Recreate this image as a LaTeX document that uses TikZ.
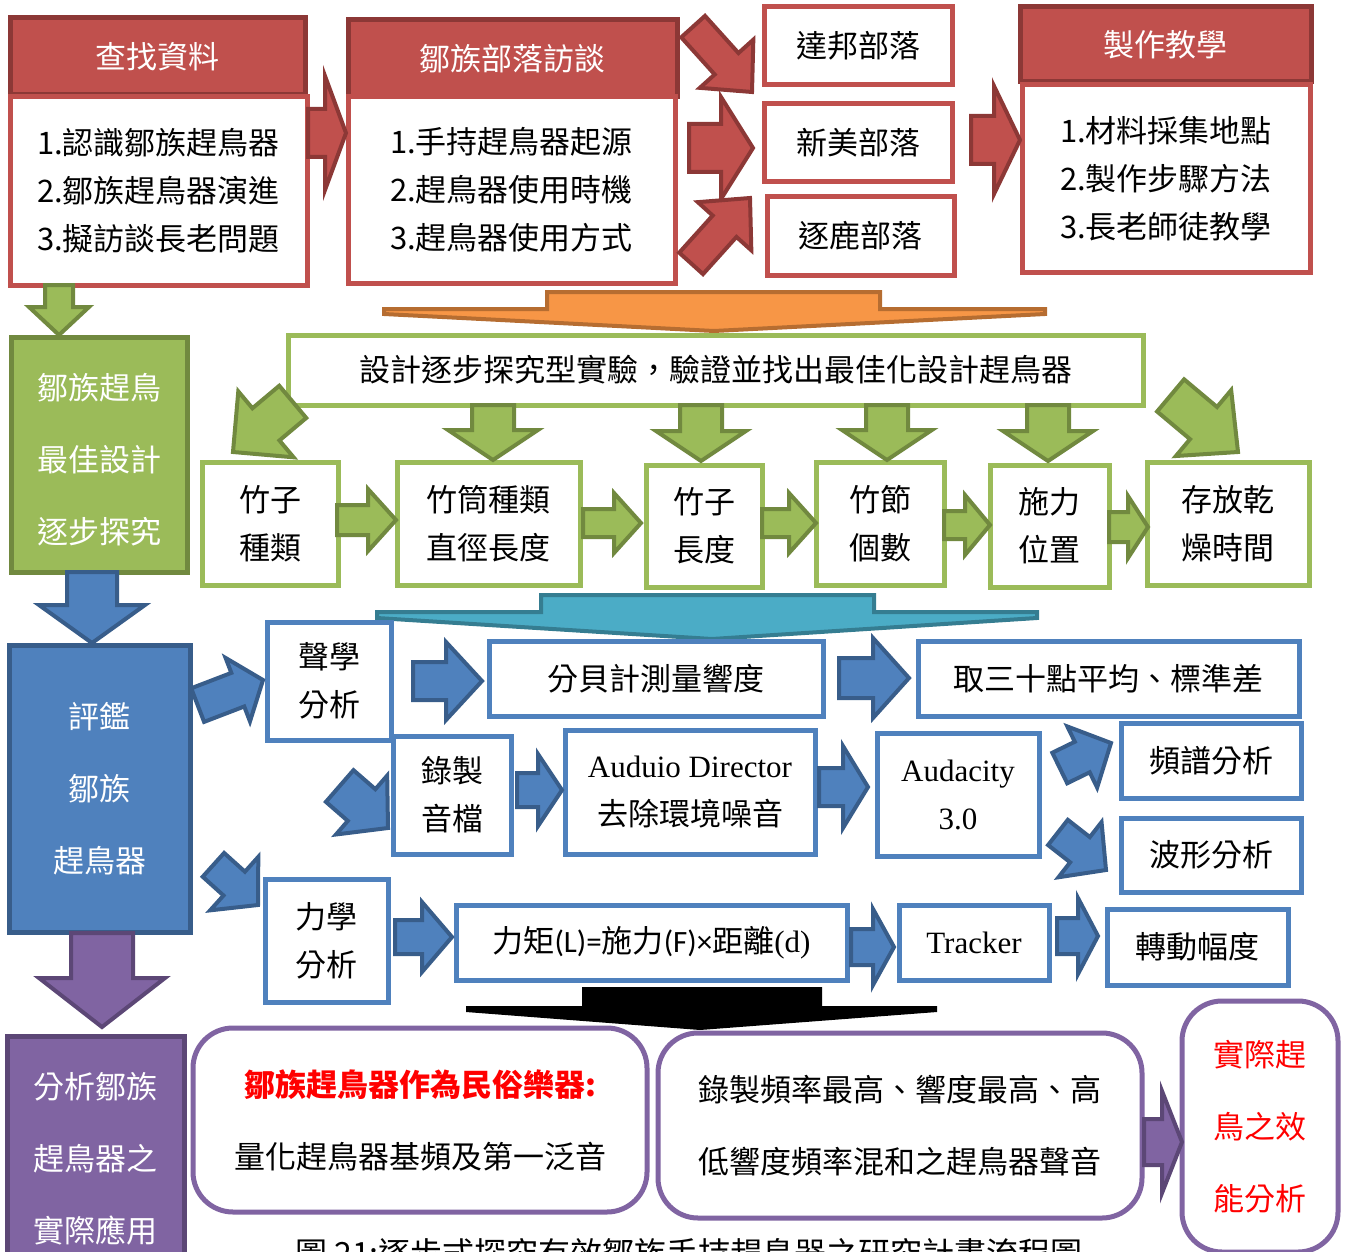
\documentclass[tikz,border=0pt]{standalone}
\usepackage{fontspec}
\setmainfont{Noto Sans CJK TC}
\newfontfamily\tnr{Liberation Serif}
\newfontfamily\carl{Carlito}
\definecolor{cRed}{HTML}{C0504D}
\definecolor{cRedD}{HTML}{8C3836}
\definecolor{cGr}{HTML}{9BBB59}
\definecolor{cGrD}{HTML}{71893F}
\definecolor{cBl}{HTML}{4F81BD}
\definecolor{cBlD}{HTML}{385D8A}
\definecolor{cPu}{HTML}{8064A2}
\definecolor{cPuD}{HTML}{5C4776}
\definecolor{cOr}{HTML}{F79646}
\definecolor{cOrD}{HTML}{B66D31}
\definecolor{cTe}{HTML}{4BACC6}
\definecolor{cTeD}{HTML}{357D91}
\definecolor{cRT}{HTML}{FF0000}
\tikzset{
  every node/.style={inner sep=0pt, outer sep=0pt},
  fs/.style={font=\fontsize{31}{48}\selectfont, align=center},
  fsw/.style={font=\fontsize{31}{72}\selectfont, align=center},
  rhead/.style={fs, draw=cRedD, fill=cRed, line width=5, text=white},
  rbody/.style={fs, draw=cRed, fill=white, line width=5},
  gfill/.style={fsw, draw=cGrD, fill=cGr, line width=5, text=white},
  gbox/.style={fs, draw=cGr, fill=white, line width=5},
  bfill/.style={fsw, draw=cBlD, fill=cBl, line width=5, text=white},
  bbox/.style={fs, draw=cBl, fill=white, line width=5},
  pfill/.style={fsw, draw=cPuD, fill=cPu, line width=5, text=white},
  pbox/.style={fsw, draw=cPu, fill=white, line width=5, rounded corners=40},
  wtext/.style={fsw, text=white},
  ra/.style={fill=cRed, draw=cRedD, line width=4},
  ga/.style={fill=cGr, draw=cGrD, line width=4},
  ba/.style={fill=cBl, draw=cBlD, line width=4},
  pa/.style={fill=cPu, draw=cPuD, line width=4},
}
% box: name, style, x1, y1, x2, y2, text
\newcommand\bx[7]{\node[#2, minimum width={#5-#3}, minimum height={#6-#4}] (#1) at ({(#3+#5)/2},{(#4+#6)/2}) {#7};}
% block arrow: style, tip, angle, length, head length, head half-width, shaft half-width
\newcommand\barrow[7]{\draw[#1, shift={#2}, rotate=#3] (-#4,-#7) -- (-#5,-#7) -- (-#5,-#6) -- (0,0) -- (-#5,#6) -- (-#5,#7) -- (-#4,#7) -- cycle;}
\begin{document}
\begin{tikzpicture}[x=1pt,y=-1pt]
\useasboundingbox (0,0) rectangle (1351,1252);
\clip (0,0) rectangle (1351,1252);
% ---------- red row ----------
\bx{h1}{rhead}{10}{18}{305}{95}{查找資料}
\bx{b1}{rbody}{10}{97}{307}{285}{1.認識鄒族趕鳥器\\2.鄒族趕鳥器演進\\3.擬訪談長老問題}
\bx{h2}{rhead}{348}{20}{677}{97}{鄒族部落訪談}
\bx{b2}{rbody}{348}{97}{675}{283}{1.手持趕鳥器起源\\2.趕鳥器使用時機\\3.趕鳥器使用方式}
\bx{t1}{rbody}{764}{7}{952}{85}{達邦部落}
\bx{t2}{rbody}{764}{104}{952}{182}{新美部落}
\bx{t3}{rbody}{767}{197}{954}{275}{逐鹿部落}
\bx{h3}{rhead}{1020}{7}{1311}{82}{製作教學}
\bx{b3}{rbody}{1022}{85}{1310}{272}{1.材料採集地點\\2.製作步驟方法\\3.長老師徒教學}
\barrow{ra}{(346,133)}{0}{38}{21}{57}{24}
\barrow{ra}{(752,92)}{-48}{88}{38}{36}{16}
\barrow{ra}{(753,148)}{0}{64}{32}{51}{24}
\barrow{ra}{(750,198)}{48}{88}{38}{36}{16}
\barrow{ra}{(1020,140)}{0}{49}{26}{54}{24}
% orange chevron
\draw[fill=cOr, draw=cOrD, line width=4] (547,292) -- (880,292) -- (880,309) -- (1045,309) -- (1045,314) -- (714,331) -- (384,314) -- (384,309) -- (547,309) -- cycle;
% ---------- green row ----------
\barrow{ga}{(59,335)}{-90}{50}{28}{30}{14}
\bx{g0}{gfill}{11}{337}{187}{572}{}
\node[wtext] (g0t) at (99,460) {鄒族趕鳥\\最佳設計\\逐步探究};
\bx{g1}{gbox}{288}{335}{1143}{405}{設計逐步探究型實驗，驗證並找出最佳化設計趕鳥器}
\bx{s1}{gbox}{202}{462}{338}{585}{竹子\\種類}
\bx{s2}{gbox}{397}{462}{580}{585}{竹筒種類\\直徑長度}
\bx{s3}{gbox}{646}{465}{762}{587}{竹子\\長度}
\bx{s4}{gbox}{816}{462}{944}{585}{竹節\\個數}
\bx{s5}{gbox}{990}{465}{1109}{587}{施力\\位置}
\bx{s6}{gbox}{1147}{462}{1309}{585}{存放乾\\燥時間}
\barrow{ga}{(233,452)}{-140}{78}{43}{43}{21}
\barrow{ga}{(493,460)}{-90}{55}{30}{45}{21}
\barrow{ga}{(701,461)}{-90}{56}{30}{45}{21}
\barrow{ga}{(887,460)}{-90}{55}{30}{45}{21}
\barrow{ga}{(1048,461)}{-90}{56}{30}{45}{21}
\barrow{ga}{(1238,452)}{-40}{88}{45}{43}{21}
\barrow{ga}{(396,520)}{0}{59}{28}{31}{15}
\barrow{ga}{(641,523)}{0}{58}{27}{30}{14}
\barrow{ga}{(816,523)}{0}{54}{27}{30}{14}
\barrow{ga}{(990,525)}{0}{46}{25}{30}{14}
\barrow{ga}{(1148,527)}{0}{39}{20}{31}{15}
% teal chevron
\draw[fill=cTe, draw=cTeD, line width=4] (541,595) -- (874,595) -- (874,612) -- (1037,612) -- (1037,618) -- (712,639) -- (377,618) -- (377,612) -- (541,612) -- cycle;
% ---------- blue rows ----------
\barrow{ba}{(92,643)}{-90}{71}{38}{53}{25}
\bx{e0}{bfill}{9}{645}{190}{932}{評鑑\\鄒族\\趕鳥器}
\bx{e1}{bbox}{267}{622}{391}{740}{聲學\\分析}
\bx{e2}{bbox}{393}{736}{511}{854}{錄製\\音檔}
\bx{e3}{bbox}{265}{879}{388}{1002}{力學\\分析}
\bx{e4}{bbox}{489}{641}{823}{716}{分貝計測量響度}
\bx{e5}{bbox}{918}{641}{1299}{716}{取三十點平均、標準差}
\bx{e6}{bbox}{565}{730}{815}{854}{\tnr Auduio Director\\去除環境噪音}
\bx{e7}{bbox}{877}{733}{1039}{856}{\tnr Audacity\\\tnr 3.0}
\bx{e8}{bbox}{1121}{723}{1301}{798}{頻譜分析}
\bx{e9}{bbox}{1121}{818}{1301}{892}{波形分析}
\bx{e10}{bbox}{456}{905}{847}{980}{力矩{\carl (L)=}施力{\carl (F)×}距離{\tnr (d)}}
\bx{e11}{bbox}{899}{905}{1049}{980}{\tnr Tracker}
\bx{e12}{bbox}{1107}{909}{1288}{985}{轉動幅度}
\barrow{ba}{(263,680)}{21}{70}{27}{34}{18}
\barrow{ba}{(388,828)}{-41}{64}{35}{39}{21}
\barrow{ba}{(258,905)}{-42}{60}{32}{36}{16}
\barrow{ba}{(482,681)}{0}{69}{36}{39}{19}
\barrow{ba}{(562,790)}{0}{45}{24}{36}{17}
\barrow{ba}{(452,937)}{0}{57}{30}{35}{17}
\barrow{ba}{(909,678)}{0}{70}{36}{40}{20}
\barrow{ba}{(868,787)}{0}{49}{25}{41}{19}
\barrow{ba}{(1111,743)}{26}{57}{32}{34}{17}
\barrow{ba}{(1106,870)}{-38}{61}{33}{35}{16}
\barrow{ba}{(894,947)}{0}{43}{21}{38}{18}
\barrow{ba}{(1098,936)}{0}{41}{20}{38}{18}
% black chevron
\fill[black] (582,987) -- (822,987) -- (822,1006) -- (937,1006) -- (937,1012) -- (700,1030) -- (466,1012) -- (466,1006) -- (582,1006) -- cycle;
% ---------- purple row ----------
\barrow{pa}{(102,1027)}{-90}{94}{49}{63}{31}
\bx{p0}{pfill}{7}{1036}{184}{1282}{分析鄒族\\趕鳥器之\\實際應用}
\bx{p1}{pbox}{193}{1028}{647}{1212}{{\color{cRT}\bfseries 鄒族趕鳥器作為民俗樂器:}\\量化趕鳥器基頻及第一泛音}
\bx{p2}{pbox}{658}{1033}{1142}{1218}{錄製頻率最高、響度最高、高\\低響度頻率混和之趕鳥器聲音}
\bx{p3}{pbox}{1182}{1001}{1338}{1252}{\color{cRT}實際趕\\\color{cRT}鳥之效\\\color{cRT}能分析}
\barrow{pa}{(1182,1142)}{0}{38}{20}{51}{23}
\node[font=\fontsize{32}{36}\selectfont, anchor=base] (cap) at (689,1265) {圖 21:逐步式探究有效鄒族手持趕鳥器之研究計畫流程圖};
\end{tikzpicture}
\end{document}
